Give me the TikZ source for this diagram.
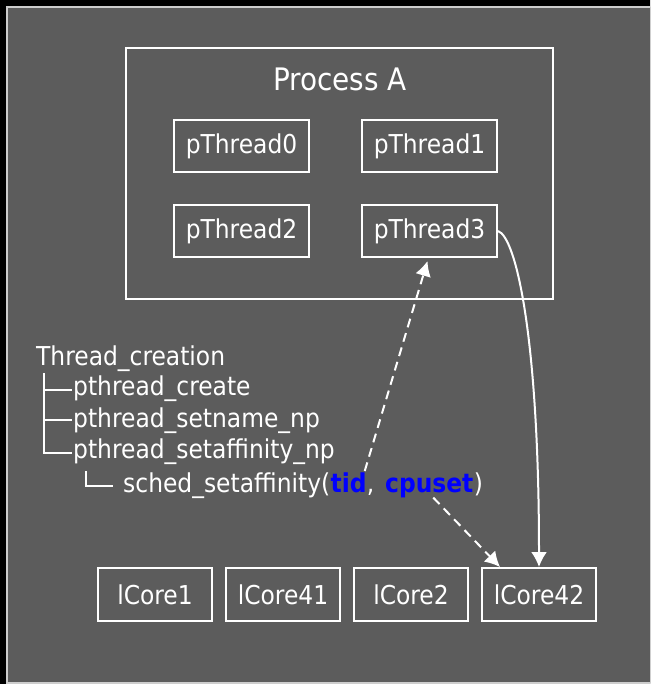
\documentclass[tikz,border=0pt]{standalone}
\usepackage{fontspec}
\setmainfont{DejaVu Sans Condensed}
\usetikzlibrary{arrows.meta,positioning,calc}
\definecolor{slateBg}{RGB}{92,92,92}
\definecolor{frameGrey}{RGB}{205,205,205}
\definecolor{argBlue}{RGB}{0,0,255}

\begin{document}
\begin{tikzpicture}[
    x=1pt,y=-1pt,
    node distance=12pt,
    thread/.style={draw=white,line width=2pt,minimum width=135pt,minimum height=52pt,inner sep=0pt,font=\fontsize{26}{30}\selectfont,text=white},
    core/.style={thread,minimum width=114pt,minimum height=53pt},
    treetext/.style={anchor=base west,inner sep=0pt,font=\fontsize{26}{30}\selectfont,text=white},
    arg/.style={treetext,text=argBlue,font=\fontsize{26}{30}\selectfont\bfseries},
    tree/.style={draw=white,line width=1.3pt},
    link/.style={-{Latex[length=15pt,width=16pt]},draw=white,line width=2pt},
    calllink/.style={link,dash pattern=on 9pt off 6pt}
  ]
  \useasboundingbox (0,0) rectangle (650,684);
  \clip (0,0) rectangle (650,684);
  \fill[black] (-20,-20) rectangle (680,700);
  \draw[frameGrey,line width=2pt,fill=slateBg] (6.5,7.5) rectangle (680,683);

  % process with its threads
  \node[draw=white,line width=2pt,minimum width=427pt,minimum height=251pt] (procA) at (339.5,173.5) {};
  \node[anchor=base,inner sep=0pt,text=white,font=\fontsize{31}{36}\selectfont] (title) at (340,91) {Process A};
  \node[thread] (t0) at (241.5,146) {pThread0};
  \node[thread,right=51pt of t0] (t1) {pThread1};
  \node[thread,below=31pt of t0] (t2) {pThread2};
  \node[thread,right=51pt of t2] (t3) {pThread3};

  % call tree
  \node[treetext] (root) at (36,365) {Thread\_creation};
  \node[treetext] (create) at (73,395) {pthread\_create};
  \node[treetext] (setname) at (73,427) {pthread\_setname\_np};
  \node[treetext] (setaff) at (73,458) {pthread\_setaffinity\_np};
  \node[treetext] (sched) at (123,492) {sched\_setaffinity(};
  \node[arg] (tid) at (sched.base east) {tid};
  \node[treetext] (comma) at (tid.base east) {,\kern0.4em};
  \node[arg] (cpuset) at (comma.base east) {cpuset};
  \node[treetext] (close) at (cpuset.base east) {)};
  \draw[tree] (44,373) -- (44,453) -- (72,453);
  \draw[tree] (44,390) -- (72,390);
  \draw[tree] (44,420) -- (72,420);
  \draw[tree] (86,471) -- (86,486) -- (113,486);

  % logical cores
  \node[core] (c1) at (155,594.5) {lCore1};
  \node[core,right=of c1] (c41) {lCore41};
  \node[core,right=of c41] (c2) {lCore2};
  \node[core,right=of c2] (c42) {lCore42};

  \draw[calllink] ($(tid.north east)+(-2,-1)$) -- ($(t3.south)+(-2,3)$);
  \draw[calllink] ($(cpuset.south)+(4,0)$) -- ($(c42.north west)+(19,0)$);
  \draw[link] (t3.east) .. controls +(18,6) and +(0,-230) .. (c42.north);
\end{tikzpicture}
\end{document}
